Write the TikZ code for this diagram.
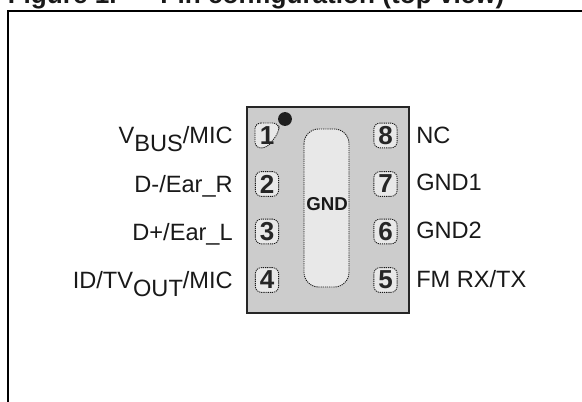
\documentclass[tikz,border=0pt]{standalone}
\usepackage{fontspec}
\setmainfont{Liberation Sans}
\tikzset{
  lbl/.style={font=\fontsize{17.7}{20}\selectfont, inner sep=0pt, text=black!90},
  titletext/.style={font=\fontsize{19.6}{22}\selectfont\bfseries, inner sep=0pt, anchor=base west, text=black!90},
  pinbox/.style={draw=black!90, dash pattern=on 0.9pt off 0.7pt, line width=0.65pt, fill=black!9, rounded corners=4.5pt},
  pinnum/.style={font=\fontsize{19.5}{20}\selectfont\bfseries, inner sep=0pt, text=black!85},
}
\begin{document}
\begin{tikzpicture}[x=0.75pt,y=-0.75pt]
\useasboundingbox (0,0) rectangle (582,401);
\clip (0,0) rectangle (582,401);
\node[titletext] (title) at (7.5,3) {Figure 1.};
\node[titletext] (titleb) at (160,3) {Pin configuration (top view)};
\draw[line width=1.5pt, black] (8,410) -- (8,11) -- (590,11);
\node[draw=black!85, fill=black!20, line width=1.4pt, minimum width=121.5pt, minimum height=154.5pt, inner sep=0pt, anchor=north west] (pkg) at (246,106) {};
\fill[black!88] (285,119) circle[radius=5.2pt];
\draw[pinbox] (255,123) -- (279,123) -- (279,132) -- (267,148) -- (255,148) -- cycle;
\node[pinbox, minimum width=17.5pt, minimum height=18.5pt, anchor=center] (p2) at (267,184) {};
\node[pinbox, minimum width=17.5pt, minimum height=18.5pt, anchor=center] (p3) at (267,231.5) {};
\node[pinbox, minimum width=17.5pt, minimum height=18.5pt, anchor=center] (p4) at (267,280) {};
\node[pinbox, minimum width=17.5pt, minimum height=18.5pt, anchor=center] (p8) at (385.5,135.5) {};
\node[pinbox, minimum width=17.5pt, minimum height=18.5pt, anchor=center] (p7) at (385.5,184) {};
\node[pinbox, minimum width=17.5pt, minimum height=18.5pt, anchor=center] (p6) at (385.5,231.5) {};
\node[pinbox, minimum width=17.5pt, minimum height=18.5pt, anchor=center] (p5) at (385.5,280) {};
\draw[pinbox, rounded corners=11pt] (304,129) rectangle (349,287);
\node[pinnum] (n1) at (267,135.5) {1};
\node[pinnum] (n2) at (267,184) {2};
\node[pinnum] (n3) at (267,231.5) {3};
\node[pinnum] (n4) at (267,280) {4};
\node[pinnum] (n8) at (385.5,135.5) {8};
\node[pinnum] (n7) at (385.5,184) {7};
\node[pinnum] (n6) at (385.5,231.5) {6};
\node[pinnum] (n5) at (385.5,280) {5};
\node[font=\fontsize{14}{16}\selectfont\bfseries, inner sep=0pt, text=black!90] (gnd) at (327,204) {GND};
\node[lbl, anchor=base east] (a) at (233,143) {V\raisebox{-6pt}{BUS}/MIC};
\node[lbl, anchor=base east] (b) at (233,192) {D-/Ear\_R};
\node[lbl, anchor=base east] (c) at (233,240) {D+/Ear\_L};
\node[lbl, anchor=base east] (d) at (233,288) {ID/TV\raisebox{-6pt}{OUT}/MIC};
\node[lbl, anchor=base west] (e) at (416,143) {NC};
\node[lbl, anchor=base west] (f) at (416,190) {GND1};
\node[lbl, anchor=base west] (g) at (416,238) {GND2};
\node[lbl, anchor=base west] (h) at (416,287) {FM RX/TX};
\end{tikzpicture}
\end{document}
